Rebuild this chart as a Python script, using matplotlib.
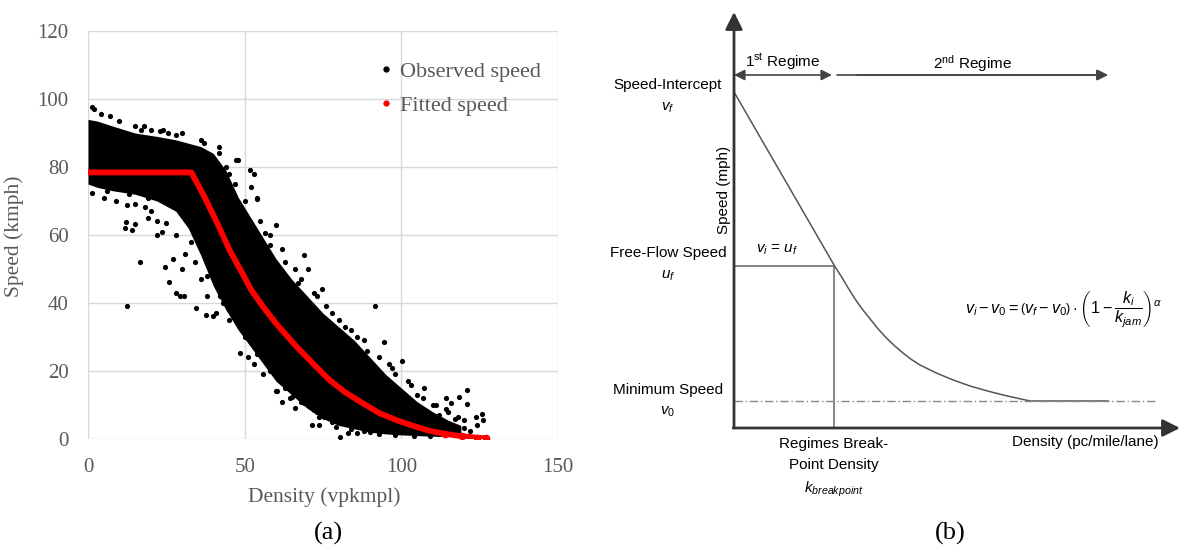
import numpy as np
import matplotlib
matplotlib.use('Agg')
import matplotlib.pyplot as plt
from matplotlib.lines import Line2D

plt.rcParams['font.family'] = ['Liberation Serif', 'DejaVu Serif']
plt.rcParams['mathtext.fontset'] = 'custom'
plt.rcParams['mathtext.rm'] = 'Liberation Sans'
plt.rcParams['mathtext.it'] = 'Liberation Sans:italic'
plt.rcParams['mathtext.bf'] = 'Liberation Sans:bold'

'''(a) observed speed cloud: dense core envelope'''
core_d = [0, 3, 8, 15, 22, 28, 32, 36, 40, 44, 48, 52, 56, 60, 65, 70, 75, 80, 85, 90, 95, 100, 105, 110, 115, 119]
core_hi = [94, 93.5, 92, 90, 89, 88, 87, 86, 84, 79, 71, 65, 59, 53, 47, 42, 37, 33, 29, 24, 19, 15, 11, 8, 5.5, 4]
core_lo = [75, 74, 73, 72, 70, 67, 62, 54, 45, 38, 32, 27, 22, 17, 13, 9, 6, 4, 3, 2, 1.5, 1.2, 1, 0.8, 0.8, 1]

'''(a) scattered observations around the core'''
obs_d = [1.2, 12.3, 15, 18.2, 12, 15, 11.8, 14, 21.9, 23.5, 16.6, 24.5, 27, 26, 30, 31, 19, 22, 12.3,
         28.2, 29.5, 30.5, 34.6, 37.8, 40, 41, 46, 48.4, 51, 60, 65, 60.4, 64.6, 68.8, 72, 73.7, 75.3, 79,
         48, 51.6, 52, 53.8, 60, 56.4, 69, 70.2, 74.7, 91.7, 94.6, 100.2, 107.3, 120.8, 114.4, 116, 114.4,
         123.8, 126, 124.3, 120, 125.6, 118.4, 121, 1.3, 2, 15, 17, 20, 23, 25.5, 28, 37, 41.8, 41.8, 47.3,
         53, 54, 44, 36, 80.3, 83, 85.7, 71.6, 73.7, 20, 25, 28, 33, 34, 36, 38, 43, 9, 5, 86, 89, 96, 98,
         103, 105, 110, 112, 117, 120, 122, 101, 95, 90, 108, 112, 62, 58, 66, 67, 72, 76, 80, 82, 56, 53,
         62, 66,
         45, 47, 50, 55, 58, 63, 68, 73, 78, 84, 88, 93, 97, 102, 107, 111, 115, 118,
         38, 42, 45, 50, 54, 58, 63, 68, 73, 78, 84, 88, 93, 98, 104, 109,
         4, 7, 10, 18, 24, 30, 6, 13, 19, 26]
obs_s = [72.3, 68.8, 69, 68.3, 63.7, 63.2, 62, 61.5, 60, 61, 52, 50.7, 53, 46.3, 50, 54.5, 65, 64, 39,
         42.9, 42, 42, 38.5, 36.6, 36.2, 37, 38.5, 25.3, 24.2, 14.2, 12.3, 14.1, 12.1, 10.6, 8.4, 6.5, 6.5, 3.6,
         82, 79, 74, 70.5, 63, 60.5, 54, 50, 44, 39, 28.4, 22.9, 14.9, 14.4, 12, 10.5, 8.9,
         6.4, 5.6, 4.1, 3.2, 7.4, 12.3, 10.2, 97.6, 97.2, 92, 91, 90.8, 90.5, 90, 89.5, 87, 86, 84, 82,
         78, 71, 80, 88, 0.7, 1.9, 1.9, 4.2, 4.2, 67, 63.5, 60, 58, 52, 47, 42, 40, 70, 71, 30, 26, 22, 19,
         16, 13, 10, 7, 6, 5.5, 2.5, 5, 3, 2, 2, 1.5, 56, 57, 50, 46, 43, 39, 35, 33, 19, 22,
         11, 9,
         78, 75, 70, 64, 60, 52, 47, 42, 37, 32, 29, 24, 21, 17, 12, 10, 8, 6.5,
         48, 42, 35, 30, 25, 20, 15, 11, 8, 5, 3, 2.5, 1.5, 1.2, 1, 1,
         95.5, 95, 93.5, 92, 91, 90, 73, 72, 71, 69]

'''(a) fitted speed'''
fit_d = [0, 33, 37, 41.5, 45.2, 48.5, 52, 55.8, 60, 66.5, 72, 77, 82, 87.7, 93, 98.3, 104, 109, 114, 119.5, 124, 127]
fit_s = [78.4, 78.4, 71.5, 63, 55.5, 50, 44, 39, 34, 27.2, 22, 17.4, 13.8, 10.5, 7.6, 5.6, 3.8, 2.4, 1.5, 0.8, 0.4, 0.2]

'''(b) schematic, in arbitrary units'''
k_break = 25
v_f, u_f, v_0 = 84, 40.5, 6.75
curve_k = [0, 25.1, 27, 28.6, 30.3, 32, 34, 36, 38.2, 40.2, 42.3, 44.4, 46.5, 50.7, 54.8, 59, 63.2, 67.3, 71.5, 74, 93.5]
curve_v = [84, 40.6, 37.6, 34.9, 32.2, 29.8, 27.3, 24.8, 22.4, 20.5, 18.7, 17.1, 15.75, 13.7, 12.0, 10.5, 9.3, 8.25, 7.3, 6.75, 6.75]
x_max, y_max = 111.5, 104.5
regime1 = (0, 24.5)
regime2 = (25.75, 93.5)
regime_y = 88.25

W, H = 1182, 550
fig = plt.figure(figsize=(W / 100, H / 100), dpi=100)

def fx(x):
    return x / W

def fy(y):
    return 1 - y / H

# ---------------- panel (a)
ax = fig.add_axes([fx(88), fy(439), 470 / W, 408 / H])
ax.fill_between(core_d, core_lo, core_hi, color='black', lw=0, zorder=2)
ax.scatter(obs_d, obs_s, s=14, color='black', lw=0, zorder=3)
ax.plot(fit_d, fit_s, color='red', lw=4.2, solid_capstyle='round', zorder=4)
ax.scatter(fit_d[-4:], fit_s[-4:], s=30, color='red', lw=0, zorder=4)
ax.set_xlim(0, 150)
ax.set_ylim(0, 120)
ax.set_xticks([0, 50, 100, 150])
ax.set_yticks(np.arange(0, 121, 20))
ax.grid(color='#d9d9d9', lw=1)
ax.set_axisbelow(True)
for sp in ax.spines.values():
    sp.set_visible(False)
ax.tick_params(length=0, pad=14, labelsize=15, labelcolor='#595959')
fig.text(fx(14), fy(236), 'Speed (kmph)', rotation=90, ha='center', va='center', fontsize=15.5, color='#595959')
fig.text(fx(324), fy(497), 'Density (vpkmpl)', ha='center', va='center', fontsize=15.5, color='#595959')

handles = [Line2D([], [], ls='', marker='o', ms=3.5, color='black'),
           Line2D([], [], ls='', marker='o', ms=3.5, color='red')]
leg = fig.legend(handles, ['Observed speed', 'Fitted speed'], loc='upper left',
                 bbox_to_anchor=(fx(380), fy(61)), frameon=False, fontsize=16,
                 handlelength=0.5, handletextpad=0.4, labelspacing=0.62, borderaxespad=0, borderpad=0)
for t in leg.get_texts():
    t.set_color('#595959')

fig.text(fx(328), fy(533), '(a)', ha='center', va='center', fontsize=19)
fig.text(fx(950), fy(533), '(b)', ha='center', va='center', fontsize=19)

# ---------------- panel (b)
bx = fig.add_axes([fx(734), fy(428), 446 / W, 418 / H])
bx.set_xlim(0, x_max)
bx.set_ylim(0, y_max)
bx.axis('off')

bx.plot(curve_k, curve_v, color='#555555', lw=1.1)
bx.plot([0, k_break], [u_f, u_f], color='#666666', lw=1.1)
bx.plot([k_break, k_break], [0, u_f], color='#666666', lw=1.1)
bx.plot([0, 105.75], [v_0, v_0], color='#888888', lw=1, ls=(0, (6, 2, 1, 2)))

axis_kw = dict(arrowstyle='-|>', mutation_scale=26, color='#333333', lw=2, shrinkA=0, shrinkB=0)
bx.annotate('', xy=(0, y_max - 0.5), xytext=(0, 0), arrowprops=axis_kw, annotation_clip=False)
bx.annotate('', xy=(x_max, 0), xytext=(-0.2, 0), arrowprops=axis_kw, annotation_clip=False)

reg_kw = dict(arrowstyle='<|-|>', mutation_scale=16, color='#444444', lw=1.2, shrinkA=0, shrinkB=0)
bx.annotate('', xy=(regime1[1], regime_y), xytext=(regime1[0], regime_y), arrowprops=reg_kw, annotation_clip=False)
reg_kw2 = dict(arrowstyle='<|-', mutation_scale=16, color='#444444', lw=1.2, shrinkA=0, shrinkB=0)
bx.annotate('', xy=(regime2[0], regime_y), xytext=(regime2[1] - 0.1, regime_y), arrowprops=reg_kw2, annotation_clip=False)
bx.annotate('', xy=(regime2[1], regime_y), xytext=(regime2[0] + 5, regime_y), arrowprops=dict(reg_kw2, arrowstyle='-|>'), annotation_clip=False)

sans = ['Liberation Sans', 'DejaVu Sans']
tk = dict(family=sans, fontsize=11, color='black', clip_on=False)
bx.text(12.25, 91.5, r'1$^{\mathrm{st}}$ Regime', ha='center', va='center', **tk)
bx.text(59.75, 91.0, r'2$^{\mathrm{nd}}$ Regime', ha='center', va='center', **tk)
bx.text(-16.5, 85.75, 'Speed-Intercept', ha='center', va='center', **tk)
bx.text(-16.5, 80.0, r'$v_f$', ha='center', va='center', **tk)
bx.text(-16.5, 43.75, 'Free-Flow Speed', ha='center', va='center', **tk)
bx.text(-16.5, 38.0, r'$u_f$', ha='center', va='center', **tk)
bx.text(-16.5, 9.5, 'Minimum Speed', ha='center', va='center', **tk)
bx.text(-16.5, 4.0, r'$v_0$', ha='center', va='center', **tk)
bx.text(-2.6, 59.5, 'Speed (mph)', rotation=90, ha='center', va='center', **tk)
bx.text(10.75, 44.6, r'$v_i$ = $u_f$', ha='center', va='center', **tk)
bx.text(k_break, -4.0, 'Regimes Break-', ha='center', va='center', **tk)
bx.text(k_break, -9.3, 'Point Density', ha='center', va='center', **tk)
bx.text(k_break, -15.3, r'$k_{breakpoint}$', ha='center', va='center', **tk)
bx.text(106.2, -3.6, 'Density (pc/mile/lane)', ha='right', va='center', **tk)
bx.text(57.8, 29.5, r'$v_i - v_0 = \left(v_f - v_0\right) \cdot \left(1 - \dfrac{k_i}{k_{jam}}\right)^{\alpha}$',
        ha='left', va='center', family=sans, fontsize=11.6, color='black', clip_on=False)

fig.savefig('out.png', dpi=100)
